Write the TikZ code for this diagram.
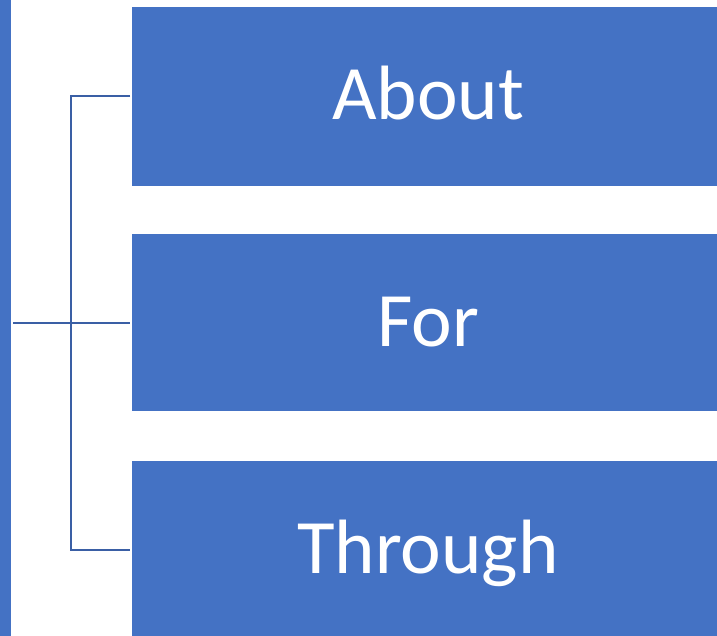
\documentclass[tikz,border=0pt]{standalone}
\usepackage{fontspec}
\setmainfont{Carlito}
\definecolor{boxblue}{RGB}{68,114,196}
\definecolor{linkblue}{RGB}{58,95,165}
\begin{document}
\begin{tikzpicture}[x=1pt,y=-1pt,
  blockbox/.style={fill=boxblue,draw=none,minimum width=592pt,inner sep=0pt,anchor=north west},
  label/.style={text=white,font=\fontsize{77}{92}\selectfont,anchor=base},
  link/.style={draw=linkblue,line width=2pt}]
\useasboundingbox (0,0) rectangle (717,636);
\begin{scope}
\clip (0,0) rectangle (717,636);
\node[fill=boxblue,minimum width=10.5pt,minimum height=660pt,inner sep=0pt,anchor=north west] (bar) at (0,-10) {};
\node[blockbox,minimum height=179pt] (b1) at (132,7) {};
\node[blockbox,minimum height=177pt] (b2) at (132,234) {};
\node[blockbox,minimum height=190pt] (b3) at (132,461) {};
\end{scope}
\node[label] (t1) at (428,120) {About};
\node[label] (t2) at (428,346) {For};
\node[label] (t3) at (428,573) {Through};
\coordinate (s) at (13,323);
\coordinate (j) at (71,323);
\coordinate (e1) at (130,96);
\coordinate (e2) at (130,323);
\coordinate (e3) at (130,550);
\draw[link] (s) -- (e2);
\draw[link] (e1) -| (j) |- (e3);
\end{tikzpicture}
\end{document}
